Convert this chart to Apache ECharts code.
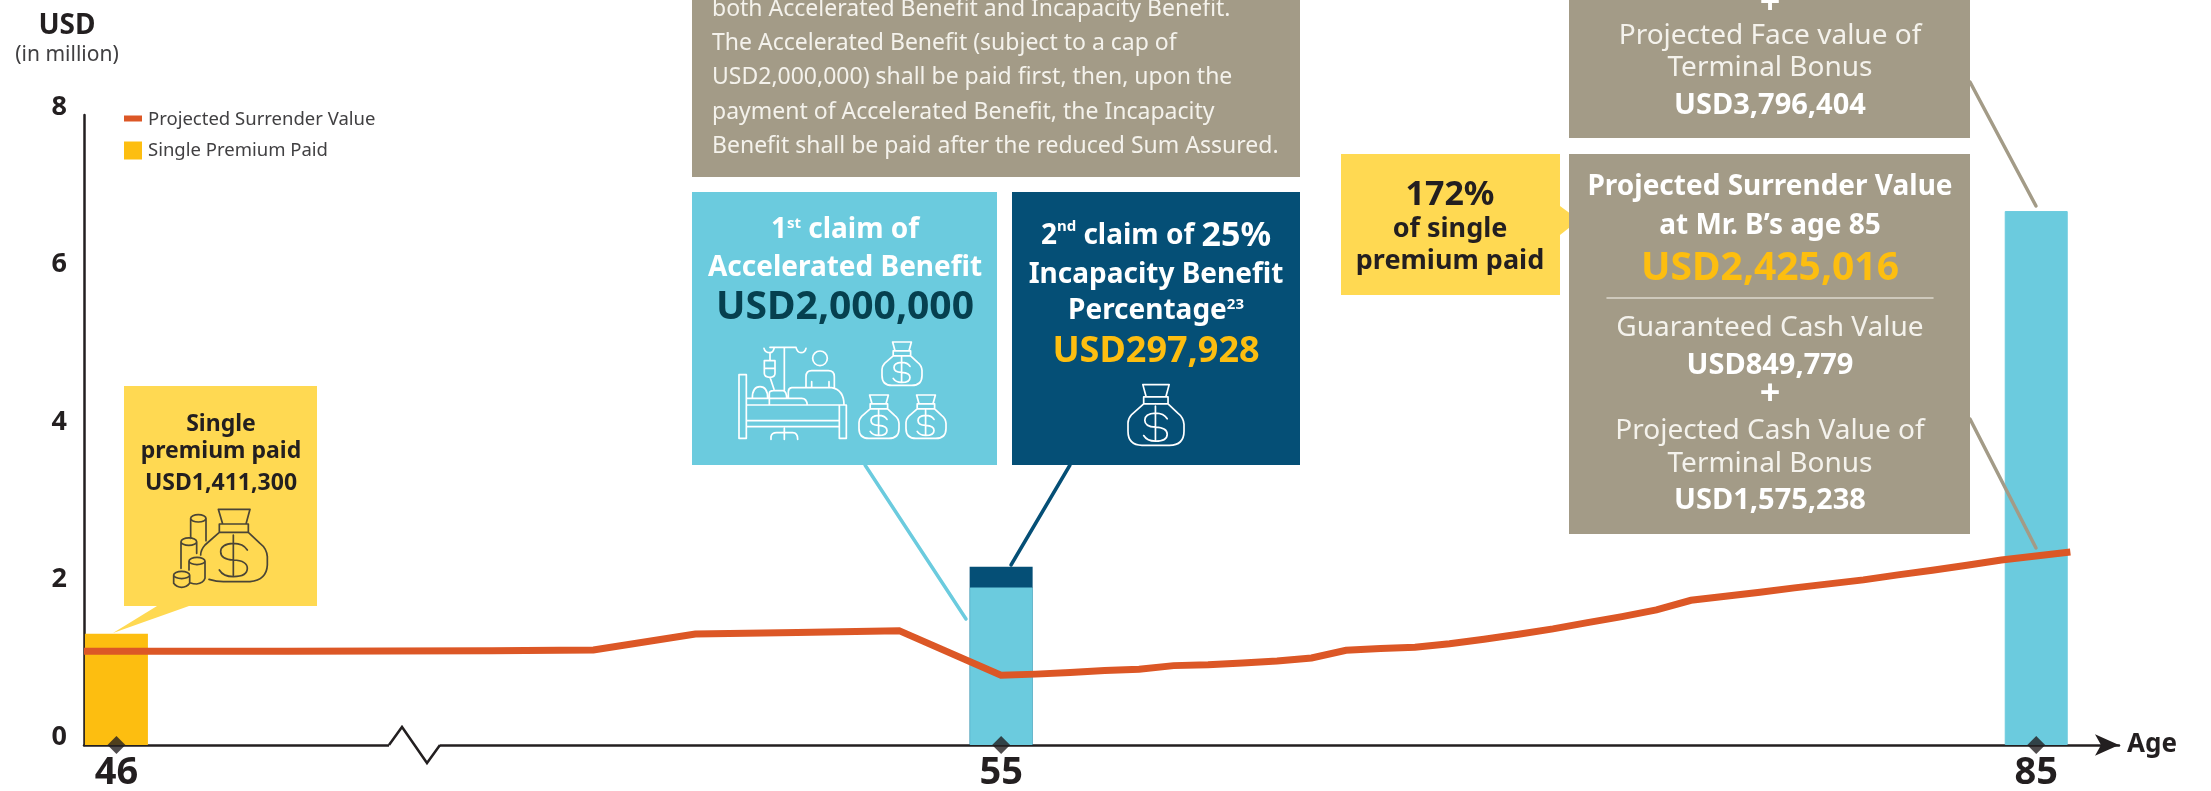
<!DOCTYPE html>
<html>
<head>
<meta charset="utf-8">
<title>Projected Surrender Value</title>
<script src="https://cdn.jsdelivr.net/npm/echarts@6/dist/echarts.min.js"></script>
<style>
html, body { margin: 0; padding: 0; background: #fff; }
#chart { width: 2211px; height: 791px; }
</style>
</head>
<body>
<div id="chart"></div>
<script>
// ages of the projected surrender value line, one point per policy year
var ages = [46,47,48,49,50,51,52,53,54,55,56,57,58,59,60,61,62,63,64,65,66,67,68,69,70,71,72,73,74,75,76,77,78,79,80,81,82,83,84,85,86];
var surrenderValue = [1.19,1.19,1.19,1.195,1.198,1.207,1.41,1.43,1.452,0.886,0.90,0.92,0.947,0.962,1.008,1.02,1.042,1.067,1.105,1.203,1.224,1.241,1.287,1.343,1.406,1.474,1.554,1.63,1.715,1.838,1.888,1.94,1.995,2.046,2.097,2.16,2.22,2.283,2.35,2.40,2.452];

// bars and tick labels, one entry per bar position
var tickAges = ['46','55','85'];
var tickPos = [0.94, 26.59, 56.6];
var singlePremium = [1.4113, null, null];
var coverValue = [null, 2.0, 6.78];
var incapacityBenefit = [null, 0.262, null];
var yTicks = [0,2,4,6,8];

var orange = '#dc5726', amber = '#fdbe10', cyan = '#6bcbde', navy = '#054f76', grey = '#a39b87', yellow = '#ffd952', ink = '#231f20';
var font = 'Noto Sans';

// the axis runs 3x wider per year before 55
function agePos(age) {
	return age <= 55 ? (age - 46) * 2.954 : 26.59 + (age - 55);
}

var linePoints = [];
for (var i = 0; i < ages.length; i++) {
	linePoints.push([agePos(ages[i]), surrenderValue[i]]);
}
function barData(values) {
	return values.map(function (v, idx) { return [tickPos[idx], v === null ? '-' : v]; });
}
// the 2nd claim sits on top of the 1st, value axis bars do not stack by x
var secondClaimTop = incapacityBenefit.map(function (v, idx) {
	return v === null ? null : v + coverValue[idx];
});

///// ANNOTATION HELPERS /////
var g = [];
function box(x, y, w, h, fill) {
	g.push({ type: 'rect', z: 20, shape: { x: x, y: y, width: w, height: h }, style: { fill: fill } });
}
function poly(points, fill) {
	g.push({ type: 'polygon', z: 20, shape: { points: points }, style: { fill: fill } });
}
function line(x1, y1, x2, y2, color, width) {
	g.push({ type: 'line', z: 21, shape: { x1: x1, y1: y1, x2: x2, y2: y2 }, style: { stroke: color, lineWidth: width, lineCap: 'round' } });
}
function label(x, y, text, size, color, weight, align, rich) {
	g.push({ type: 'text', z: 22, style: {
		x: x, y: y + 2, text: text, fill: color, textAlign: align || 'center', textVerticalAlign: 'middle',
		fontFamily: font, fontSize: size, fontWeight: weight || 'normal', rich: rich
	} });
}
function icon(x, y, scale, name, color) {
	g.push({ type: name, z: 22, x: x, y: y, scaleX: scale, scaleY: scale,
		shape: {},
		style: { fill: 'none', stroke: color, lineWidth: 1.7 / scale, lineCap: 'round', lineJoin: 'round' } });
}
function supStyle(size, color) {
	return {
		a: { fontFamily: font, fontSize: size, fontWeight: 'bold', fill: color, color: color },
		b: { fontFamily: font, fontSize: size + 6, fontWeight: 'bold', fill: color, color: color },
		s: { fontFamily: font, fontSize: 15, fontWeight: 'bold', fill: color, color: color, verticalAlign: 'top' }
	};
}

var bagPath = 'M-47 -80H47L35 -36H-35ZM-44 -36H43V-11H-44ZM-44 -11L-87 27Q-100 42 -100 57V87Q-100 137 -50 137H48Q100 137 100 87V62Q98 37 78 22L43 -11' +
	'M40 42Q28 22 -2 22Q-40 24 -40 47Q-40 70 -2 72Q40 74 40 97Q40 122 -2 122Q-32 122 -44 102M-2 -3V117';

// bag and coins of the single premium box
var coinBagPath = 'M175 28H270L258 72H188ZM178 72H265V97H178ZM178 97L135 135Q122 150 122 165M147 238Q170 245 190 245H270Q320 240 322 195V170Q320 145 300 130L265 97' +
	'M262 150Q250 130 220 130Q182 132 182 155Q182 178 220 180Q262 182 262 205Q262 230 220 230Q190 230 178 210M220 105V225' +
	'M92 55A23 11 0 0 1 138 55A23 11 0 0 1 92 55M92 55V115M138 55V122' +
	'M63 125A23 11 0 0 1 110 125A23 11 0 0 1 63 125M63 125V205M110 125V160' +
	'M87 183A24 11 0 0 1 135 183A24 11 0 0 1 87 183M87 183V210M135 183V235Q130 250 110 252Q100 252 90 248' +
	'M41 225A24 11 0 0 1 89 225A24 11 0 0 1 41 225M41 225V250Q50 262 65 262Q80 262 89 250V225';

var bedPath = 'M57 134H79V325H57ZM358 225H379V325H358ZM79 225H358M79 272H358M79 290H358' +
	'M153 328V320Q155 308 170 308H218Q233 308 233 328M193 295V328' +
	'M97 205Q97 170 120 170Q143 170 143 205M80 205H148V225' +
	'M148 205V190Q148 182 160 182H190Q200 185 200 205M150 205H245Q260 205 262 225' +
	'M205 205V185Q205 175 215 173H335Q372 180 372 225' +
	'M278 85A22 22 0 1 1 322 85A22 22 0 1 1 278 85' +
	'M258 173V140Q258 122 275 122H325Q343 122 343 140V173M275 155V173M327 155V173' +
	'M193 52V180M150 52H228M132 55Q135 68 150 68Q160 68 163 52M228 52Q232 68 243 68Q255 68 258 55' +
	'M150 68V92M133 92H165V130Q165 142 150 142Q133 142 133 130ZM133 115H165M150 142L162 178';

echarts.graphic.registerShape('bagIcon', echarts.graphic.extendPath(bagPath));
echarts.graphic.registerShape('coinBagIcon', echarts.graphic.extendPath(coinBagPath));
echarts.graphic.registerShape('bedIcon', echarts.graphic.extendPath(bedPath));

///// ANNOTATION BOXES /////
// x axis break
g.push({ type: 'line', z: 20, shape: { x1: 389, y1: 745, x2: 440, y2: 745 }, style: { stroke: '#fff', lineWidth: 5 } });
g.push({ type: 'polyline', z: 21, shape: { points: [[389,745],[402,727],[427,763],[440,745]] }, style: { stroke: ink, lineWidth: 2.5, fill: 'none' } });

// single premium
box(124, 386, 193, 220, yellow);
poly([[157,606],[189,606],[113,633]], yellow);
label(221, 422, 'Single', 23, ink, 'bold');
label(221, 449, 'premium paid', 23, ink, 'bold');
label(221, 481, 'USD1,411,300', 23, ink, 'bold');
icon(160, 500, 1 / 3, 'coinBagIcon', '#4a4536');

// explanation above the claims
box(692, 0, 608, 177, grey);
var noteLines = ['both Accelerated Benefit and Incapacity Benefit.', 'The Accelerated Benefit (subject to a cap of', 'USD2,000,000) shall be paid first, then, upon the', 'payment of Accelerated Benefit, the Incapacity', 'Benefit shall be paid after the reduced Sum Assured.'];
for (var n = 0; n < noteLines.length; n++) {
	label(712, 7 + n * 34.4, noteLines[n], 23, '#f4f2ec', 'normal', 'left');
}

// 1st claim
box(692, 192, 305, 273, cyan);
label(845, 228, '{a|1}{s|st}{a| claim of}', 28, '#fff', 'bold', 'center', supStyle(28, '#fff'));
label(845, 266, 'Accelerated Benefit', 28, '#fff', 'bold');
label(845, 306, 'USD2,000,000', 39, '#06404f', 'bold');
icon(720, 330, 1 / 3, 'bedIcon', '#fff');
icon(902, 358, 0.2, 'bagIcon', '#fff');
icon(879, 411, 0.2, 'bagIcon', '#fff');
icon(926, 411, 0.2, 'bagIcon', '#fff');
line(865, 465, 966, 619, cyan, 3.5);

// 2nd claim
box(1012, 192, 288, 273, navy);
label(1156, 234, '{a|2}{s|nd}{a| claim of }{b|25%}', 28, '#fff', 'bold', 'center', supStyle(28, '#fff'));
label(1156, 273, 'Incapacity Benefit', 28, '#fff', 'bold');
label(1156, 309, '{a|Percentage}{s|23}', 28, '#fff', 'bold', 'center', supStyle(28, '#fff'));
label(1156, 350, 'USD297,928', 36, amber, 'bold');
icon(1156, 407, 0.28, 'bagIcon', '#fff');
line(1070, 465, 1011, 565, navy, 3.5);

// face value box
box(1569, 0, 401, 138, grey);
label(1770, 2, '+', 36, '#fff', 'bold');
label(1770, 34, 'Projected Face value of', 28, '#f4f2ec');
label(1770, 66, 'Terminal Bonus', 28, '#f4f2ec');
label(1770, 104, 'USD3,796,404', 29, '#fff', 'bold');
line(1970, 82, 2036, 206, grey, 3.5);

// 172% callout
box(1341, 154, 219, 141, yellow);
poly([[1560,206],[1579,220],[1560,235]], yellow);
label(1450, 193, '172%', 34, ink, 'bold');
label(1450, 227, 'of single', 27, ink, 'bold');
label(1450, 259, 'premium paid', 27, ink, 'bold');

// surrender value box
box(1569, 154, 401, 380, grey);
label(1770, 185, 'Projected Surrender Value', 28, '#fff', 'bold');
label(1770, 224, 'at Mr. B\u2019s age 85', 28, '#fff', 'bold');
label(1770, 267, 'USD2,425,016', 39, amber, 'bold');
line(1607, 298, 1933, 298, '#ddd9ce', 1.5);
label(1770, 326, 'Guaranteed Cash Value', 28, '#f4f2ec');
label(1770, 364, 'USD849,779', 29, '#fff', 'bold');
label(1770, 393, '+', 36, '#fff', 'bold');
label(1770, 429, 'Projected Cash Value of', 28, '#f4f2ec');
label(1770, 462, 'Terminal Bonus', 28, '#f4f2ec');
label(1770, 499, 'USD1,575,238', 29, '#fff', 'bold');
line(1970, 419, 2036, 548, grey, 3.5);

///// CHART /////
var myChart = echarts.init(document.getElementById('chart'));
myChart.setOption({
	animation: false,
	textStyle: { fontFamily: font },
	grid: { left: 84, top: 115, width: 2035, bottom: 46, outerBoundsMode: 'none' },
	legend: {
		left: 124, top: 110, orient: 'vertical', itemWidth: 18, itemHeight: 18, itemGap: 12, padding: 0, selectedMode: false,
		textStyle: { fontFamily: font, fontSize: 18.5, color: '#414042', padding: [0, 0, 0, 1] },
		data: [
			{ name: 'Projected Surrender Value', icon: 'path://M0 0L0 0M18 18L18 18M0 5H18V11H0Z' },
			{ name: 'Single Premium Paid', icon: 'rect' }
		]
	},
	xAxis: {
		type: 'value', min: 0, max: 59, splitLine: { show: false },
		name: 'Age', nameLocation: 'end', nameGap: 8,
		nameTextStyle: { fontFamily: font, fontSize: 26, fontWeight: 'bold', color: ink },
		axisLine: { show: true, onZero: false, symbol: ['none', 'arrow'], symbolSize: [16, 24], lineStyle: { color: ink, width: 2.5 } },
		axisTick: { show: false },
		axisLabel: {
			customValues: tickPos, margin: 9, fontFamily: font, fontSize: 38, fontWeight: 'bold', color: ink,
			formatter: function (v) { return tickAges[tickPos.indexOf(v)]; }
		}
	},
	yAxis: {
		type: 'value', min: 0, max: 8, interval: 2, splitLine: { show: false },
		name: '{a|USD}\n{b|(in million)}', nameLocation: 'end', nameGap: 47,
		nameTextStyle: {
			align: 'center', padding: [0, 34, 0, 0],
			rich: {
				a: { fontFamily: font, fontSize: 28, fontWeight: 'bold', color: ink, lineHeight: 31 },
				b: { fontFamily: font, fontSize: 21, color: '#414042', lineHeight: 26 }
			}
		},
		axisLine: { show: true, lineStyle: { color: ink, width: 2.5 } },
		axisTick: { show: false },
		axisLabel: {
			margin: 17, customValues: yTicks,
			formatter: '{v|{value}}',
			rich: { v: { fontFamily: font, fontSize: 27, fontWeight: 'bold', color: ink, padding: [0, 0, 16, 0] } }
		}
	},
	series: [
		{ name: 'Incapacity Benefit', type: 'bar', barGap: '-100%', barWidth: 63, itemStyle: { color: navy }, data: barData(secondClaimTop) },
		{ name: 'Accelerated Benefit', type: 'bar', barGap: '-100%', barWidth: 63, itemStyle: { color: cyan, borderColor: cyan, borderWidth: 1 }, data: barData(coverValue) },
		{ name: 'Single Premium Paid', type: 'bar', barGap: '-100%', barWidth: 63, itemStyle: { color: amber }, data: barData(singlePremium) },
		{
			name: 'Projected Surrender Value', type: 'line', z: 5, symbol: 'none', data: linePoints,
			itemStyle: { color: orange }, lineStyle: { color: orange, width: 7, cap: 'butt', join: 'miter' }
		},
		{
			name: 'Ticks', type: 'scatter', z: 6, symbol: 'diamond', symbolSize: [18, 18], clip: false, silent: true,
			itemStyle: { color: ink }, data: tickPos.map(function (p) { return [p, 0]; })
		}
	],
	graphic: g
});
</script>
</body>
</html>
